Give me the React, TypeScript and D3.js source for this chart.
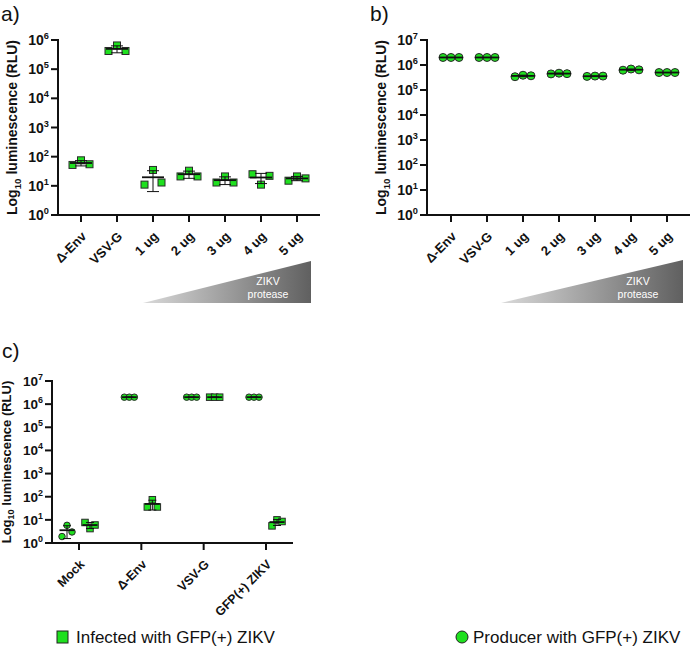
import React from "react";
import * as d3 from "d3";

// ---------- data ----------
const categoriesAB = ["Δ-Env", "VSV-G", "1 ug", "2 ug", "3 ug", "4 ug", "5 ug"];
const panelAInfected = [
  [52, 75, 55],
  [4.2e5, 6.5e5, 4.2e5],
  [11, 35, 13],
  [21, 33, 21],
  [13, 21, 13],
  [25, 11, 22],
  [15, 21, 18],
];
const panelBProducer = [
  [2e6, 2e6, 2e6],
  [2e6, 2e6, 2e6],
  [3.4e5, 3.9e5, 3.7e5],
  [4.4e5, 4.7e5, 4.5e5],
  [3.5e5, 3.6e5, 3.6e5],
  [6.2e5, 6.9e5, 6.4e5],
  [5e5, 5e5, 5e5],
];
const categoriesC = ["Mock", "Δ-Env", "VSV-G", "GFP(+) ZIKV"];
const panelCProducer = [
  [1.9, 5.8, 3.0],
  [2e6, 2e6, 2e6],
  [2e6, 2e6, 2e6],
  [2e6, 2e6, 2e6],
];
const panelCInfected = [
  [7.7, 4.2, 6.0],
  [36, 74, 36],
  [2e6, 2e6, 2e6],
  [5.5, 10, 8.5],
];
const exponentsA = [0, 1, 2, 3, 4, 5, 6];
const exponentsBC = [0, 1, 2, 3, 4, 5, 6, 7];
const panelLetters = ["a)", "b)", "c)"];
const legendLabels = ["Infected with GFP(+) ZIKV", "Producer with GFP(+) ZIKV"];
const triangleLines = ["ZIKV", "protease"];

const GREEN = "#1fe01f";
const FONT = "'Liberation Sans', Arial, Helvetica, sans-serif";

type Group = { cat: string; values: number[]; shape: "square" | "circle"; offset: number };

function YLabel({ x, y, size }: { x: number; y: number; size: number }) {
  return (
    <text
      transform={`translate(${x},${y}) rotate(-90)`}
      textAnchor="middle"
      fontFamily={FONT}
      fontWeight="bold"
      fontSize={size}
      fill="#111"
    >
      Log
      <tspan fontSize={size * 0.7} dy={size * 0.25}>10</tspan>
      <tspan dy={-size * 0.25}> luminescence (RLU)</tspan>
    </text>
  );
}

function Panel(props: {
  categories: string[];
  groups: Group[];
  exponents: number[];
  axisX: number;
  axisEnd: number;
  yBottom: number;
  yTop: number;
  firstCat: number;
  lastCat: number;
  spread: number;
  markSize: number;
  meanHalf: number;
  capHalf: number;
  tickSize: number;
  catSize: number;
  yLabelSize: number;
}) {
  const p = props;
  const maxE = p.exponents[p.exponents.length - 1];
  const y = d3.scaleLog().domain([1, Math.pow(10, maxE)]).range([p.yBottom, p.yTop]);
  const x = d3.scalePoint<string>().domain(p.categories).range([p.firstCat, p.lastCat]);
  const jitter = [-1, 0, 1];
  return (
    <g>
      {/* points */}
      {p.groups.map((g, gi) => {
        const cx = (x(g.cat) as number) + g.offset;
        return g.values.map((v, i) => {
          const px = cx + jitter[i] * p.spread;
          const py = y(v);
          return g.shape === "square" ? (
            <rect
              key={`${gi}-${i}`}
              x={px - p.markSize / 2}
              y={py - p.markSize / 2}
              width={p.markSize}
              height={p.markSize}
              fill={GREEN}
              stroke="#2a2a2a"
              strokeWidth={1}
            />
          ) : (
            <circle key={`${gi}-${i}`} cx={px} cy={py} r={p.markSize / 2} fill={GREEN} stroke="#2a2a2a" strokeWidth={1} />
          );
        });
      })}
      {/* mean and SD */}
      {p.groups.map((g, gi) => {
        const cx = (x(g.cat) as number) + g.offset;
        const m = d3.mean(g.values) as number;
        const sd = d3.deviation(g.values) || 0;
        const hi = m + sd;
        const lo = Math.max(m - sd, 1);
        const ym = y(m);
        const yh = y(hi);
        const yl = y(lo);
        return (
          <g key={`m${gi}`} stroke="#111">
            <line x1={cx} x2={cx} y1={yh} y2={yl} strokeWidth={1} />
            <line x1={cx - p.capHalf} x2={cx + p.capHalf} y1={yh} y2={yh} strokeWidth={1} />
            <line x1={cx - p.capHalf} x2={cx + p.capHalf} y1={yl} y2={yl} strokeWidth={1} />
            <line x1={cx - p.meanHalf} x2={cx + p.meanHalf} y1={ym} y2={ym} strokeWidth={1.8} />
          </g>
        );
      })}
      {/* axes */}
      <line x1={p.axisX} x2={p.axisX} y1={p.yTop - 1} y2={p.yBottom + 1} stroke="#111" strokeWidth={2} />
      <line x1={p.axisX - 1} x2={p.axisEnd} y1={p.yBottom} y2={p.yBottom} stroke="#111" strokeWidth={2} />
      {p.exponents.map((e) => {
        const ty = y(Math.pow(10, e));
        return (
          <g key={`yt${e}`}>
            <line x1={p.axisX - 7} x2={p.axisX} y1={ty} y2={ty} stroke="#111" strokeWidth={2} />
            <text
              x={p.axisX - 9}
              y={ty + 5}
              textAnchor="end"
              fontFamily={FONT}
              fontWeight="bold"
              fontSize={p.tickSize}
              fill="#111"
            >
              10
              <tspan fontSize={p.tickSize * 0.66} dy={-6}>{e}</tspan>
            </text>
          </g>
        );
      })}
      {p.categories.map((c) => {
        const tx = x(c) as number;
        return (
          <g key={`xt${c}`}>
            <line x1={tx} x2={tx} y1={p.yBottom} y2={p.yBottom + 7} stroke="#111" strokeWidth={2} />
            <text
              transform={`translate(${tx + 3},${p.yBottom + 19}) rotate(-45)`}
              textAnchor="end"
              dy="0.35em"
              fontFamily={FONT}
              fontWeight="bold"
              fontSize={p.catSize}
              fill="#111"
            >
              {c}
            </text>
          </g>
        );
      })}
      <YLabel x={p.axisX - 41} y={(p.yTop + p.yBottom) / 2} size={p.yLabelSize} />
    </g>
  );
}

function Triangle({ id, x0, x1, yTop, yBottom, textX }: { id: string; x0: number; x1: number; yTop: number; yBottom: number; textX: number }) {
  return (
    <g>
      <defs>
        <linearGradient id={id} x1="0" x2="1" y1="0" y2="0">
          <stop offset="0%" stopColor="#dadada" />
          <stop offset="100%" stopColor="#606060" />
        </linearGradient>
      </defs>
      <polygon points={`${x0},${yBottom} ${x1},${yBottom} ${x1},${yTop}`} fill={`url(#${id})`} />
      {triangleLines.map((t, i) => (
        <text key={t} x={textX} y={yBottom - 18 + i * 13} textAnchor="middle" fontFamily={FONT} fontSize={10.5} fill="#fff">
          {t}
        </text>
      ))}
    </g>
  );
}

export default function App() {
  const groupsA: Group[] = categoriesAB.map((c, i) => ({ cat: c, values: panelAInfected[i], shape: "square", offset: 0 }));
  const groupsB: Group[] = categoriesAB.map((c, i) => ({ cat: c, values: panelBProducer[i], shape: "circle", offset: 0 }));
  const groupsC: Group[] = [
    ...categoriesC.map((c, i) => ({ cat: c, values: panelCProducer[i], shape: "circle" as const, offset: -12 })),
    ...categoriesC.map((c, i) => ({ cat: c, values: panelCInfected[i], shape: "square" as const, offset: 11 })),
  ];
  const letterFont = "'Liberation Sans', Arial, sans-serif";
  return (
    <div style={{ position: "absolute", left: 0, top: 0 }}>
      <svg width={691} height={651} style={{ display: "block", background: "#fff" }}>
        <text x={1} y={21} fontFamily={letterFont} fontSize={21} fill="#111">{panelLetters[0]}</text>
        <text x={370} y={21} fontFamily={letterFont} fontSize={21} fill="#111">{panelLetters[1]}</text>
        <text x={2} y={358} fontFamily={letterFont} fontSize={21} fill="#111">{panelLetters[2]}</text>

        <Panel
          categories={categoriesAB}
          groups={groupsA}
          exponents={exponentsA}
          axisX={58}
          axisEnd={320}
          yBottom={215}
          yTop={40}
          firstCat={81}
          lastCat={297}
          spread={8.5}
          markSize={7}
          meanHalf={11}
          capHalf={6}
          tickSize={14}
          catSize={13}
          yLabelSize={14}
        />
        <Triangle id="gradA" x0={143} x1={311} yTop={261} yBottom={303} textX={268} />

        <Panel
          categories={categoriesAB}
          groups={groupsB}
          exponents={exponentsBC}
          axisX={427}
          axisEnd={690}
          yBottom={215}
          yTop={40}
          firstCat={451}
          lastCat={667}
          spread={8}
          markSize={8}
          meanHalf={12}
          capHalf={5}
          tickSize={14}
          catSize={13}
          yLabelSize={14}
        />
        <Triangle id="gradB" x0={501} x1={683} yTop={260} yBottom={303} textX={638} />

        <Panel
          categories={categoriesC}
          groups={groupsC}
          exponents={exponentsBC}
          axisX={52}
          axisEnd={293}
          yBottom={543}
          yTop={381}
          firstCat={79}
          lastCat={266}
          spread={5}
          markSize={6.5}
          meanHalf={7.5}
          capHalf={4}
          tickSize={13.5}
          catSize={12.5}
          yLabelSize={13}
        />

        {/* legend */}
        <rect x={57} y={631} width={11} height={12} fill={GREEN} stroke="#222" strokeWidth={1} />
        <text x={76} y={643} fontFamily={FONT} fontSize={17} fill="#111">{legendLabels[0]}</text>
        <circle cx={462} cy={637} r={6} fill={GREEN} stroke="#222" strokeWidth={1} />
        <text x={473} y={643} fontFamily={FONT} fontSize={17} fill="#111">{legendLabels[1]}</text>
      </svg>
    </div>
  );
}
